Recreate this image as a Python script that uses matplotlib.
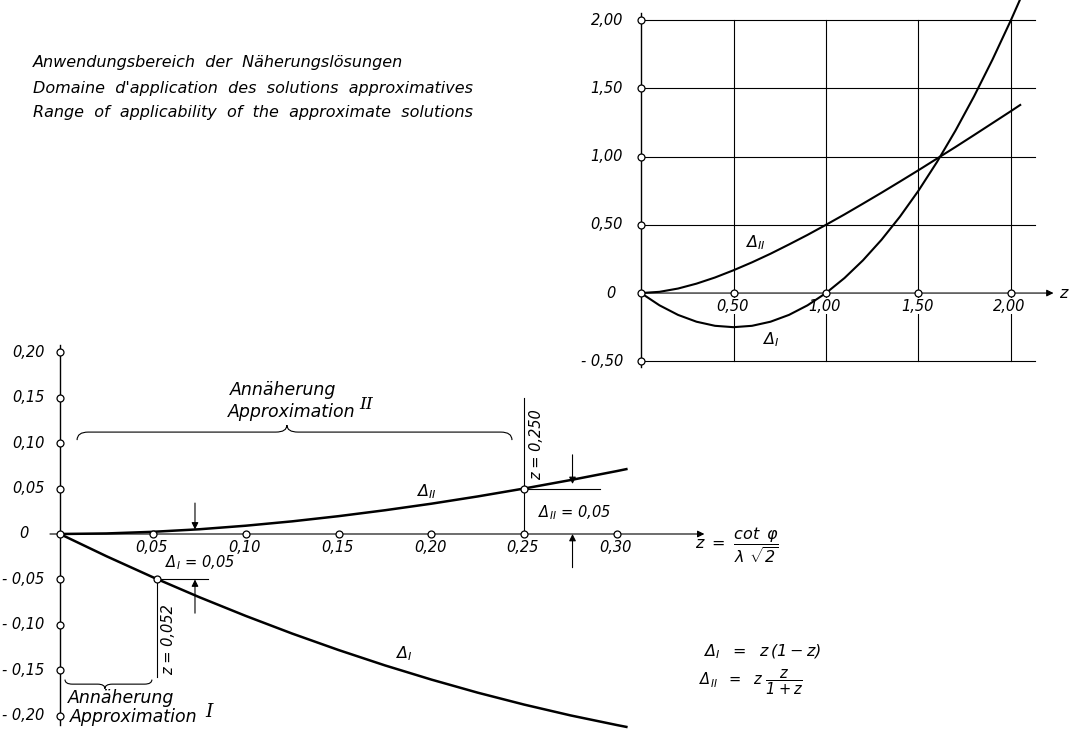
import matplotlib
matplotlib.use('Agg')
import matplotlib.pyplot as plt
from matplotlib.path import Path
from matplotlib.patches import PathPatch

# values
z_main = [0, 0.025, 0.05, 0.075, 0.10, 0.125, 0.15, 0.175, 0.20, 0.225, 0.25, 0.275, 0.30, 0.305]
d1_main = [0, -0.0244, -0.0475, -0.0694, -0.0900, -0.1094, -0.1275, -0.1444, -0.1600,
           -0.1744, -0.1875, -0.1994, -0.2100, -0.2120]
d2_main = [0, 0.0006, 0.0024, 0.0052, 0.0091, 0.0139, 0.0196, 0.0261, 0.0333,
           0.0413, 0.0500, 0.0593, 0.0692, 0.0713]

z_ins = [0, 0.1, 0.2, 0.3, 0.4, 0.5, 0.6, 0.7, 0.8, 0.9, 1.0, 1.1, 1.2, 1.3, 1.4,
         1.5, 1.6, 1.7, 1.8, 1.9, 2.0, 2.05]
d1_ins = [0, -0.09, -0.16, -0.21, -0.24, -0.25, -0.24, -0.21, -0.16, -0.09, 0, 0.11,
          0.24, 0.39, 0.56, 0.75, 0.96, 1.19, 1.44, 1.71, 2.0, 2.153]
d2_ins = [0, 0.009, 0.033, 0.069, 0.114, 0.167, 0.225, 0.288, 0.356, 0.426, 0.5, 0.576,
          0.655, 0.735, 0.817, 0.9, 0.985, 1.070, 1.157, 1.245, 1.333, 1.378]

main_xticks = [0.05, 0.10, 0.15, 0.20, 0.25, 0.30]
main_xlabels = ['0,05', '0,10', '0,15', '0,20', '0,25', '0,30']
main_yticks = [0.20, 0.15, 0.10, 0.05, -0.05, -0.10, -0.15, -0.20]
main_ylabels = ['0,20', '0,15', '0,10', '0,05', '- 0,05', '- 0,10', '- 0,15', '- 0,20']

ins_xticks = [0.5, 1.0, 1.5, 2.0]
ins_xlabels = ['0,50', '1,00', '1,50', '2,00']
ins_yticks = [2.0, 1.5, 1.0, 0.5, -0.5]
ins_ylabels = ['2,00', '1,50', '1,00', '0,50', '- 0,50']

title_lines = ['Anwendungsbereich  der  Näherungslösungen',
               "Domaine  d'application  des  solutions  approximatives",
               'Range  of  applicability  of  the  approximate  solutions']

plt.rcParams['font.family'] = 'DejaVu Sans'
plt.rcParams['font.style'] = 'italic'
plt.rcParams['mathtext.fontset'] = 'custom'
plt.rcParams['mathtext.it'] = 'DejaVu Sans:italic'
plt.rcParams['mathtext.rm'] = 'DejaVu Sans:italic'
plt.rcParams['mathtext.default'] = 'it'

FS = 10.5
W, H = 1072, 731


def brace(ax, x0, x1, xm, y, d_end, d_tip, e):
    # curly brace; d_end/d_tip signed heights of end curls and middle tip
    verts = [(x0, y + d_end), (x0, y), (x0 + e, y),
             (xm - e, y), (xm, y), (xm, y + d_tip),
             (xm, y), (xm + e, y),
             (x1 - e, y), (x1, y), (x1, y + d_end)]
    codes = [Path.MOVETO, Path.CURVE3, Path.CURVE3,
             Path.LINETO, Path.CURVE3, Path.CURVE3,
             Path.CURVE3, Path.CURVE3,
             Path.LINETO, Path.CURVE3, Path.CURVE3]
    ax.add_patch(PathPatch(Path(verts, codes), fill=False, lw=0.8, color='k'))


def arrow(ax, tail, tip):
    ax.annotate('', xy=tip, xytext=tail,
                arrowprops=dict(arrowstyle='-|>', color='k', lw=0.8,
                                mutation_scale=10, shrinkA=0, shrinkB=0))


def open_marks(ax, xs, ys, ms=5):
    ax.plot(xs, ys, 'o', ms=ms, mfc='white', mec='k', mew=0.9, zorder=6)


fig = plt.figure(figsize=(W / 100, H / 100), dpi=100)

# ---------------- main chart ----------------
ax = fig.add_axes([0, 0, 800 / W, 391 / H])
ax.set_xlim(-0.0323, 0.3985)
ax.set_ylim(-0.2165, 0.2132)
ax.axis('off')

ax.plot([0, 0], [-0.21, 0.2077], color='k', lw=1.0)
arrow(ax, (-0.0054, 0), (0.347, 0))

ax.plot(z_main, d1_main, color='k', lw=1.8)
ax.plot(z_main, d2_main, color='k', lw=1.8)

open_marks(ax, [0] * len(main_yticks), main_yticks)
open_marks(ax, main_xticks, [0] * len(main_xticks))
open_marks(ax, [0, 0.052, 0.25], [0, -0.05, 0.05])

for t, lab in zip(main_xticks, main_xlabels):
    ax.annotate(lab, (t, 0), xytext=(-1, -4), textcoords='offset points',
                ha='center', va='top', fontsize=FS)
for t, lab in zip(main_yticks, main_ylabels):
    ax.annotate(lab, (0, t), xytext=(-11, 0), textcoords='offset points',
                ha='right', va='center', fontsize=FS)
ax.annotate('0', (0, 0), xytext=(-26, 0), textcoords='offset points',
            ha='center', va='center', fontsize=FS)

# z = 0,052 marker
ax.plot([0.052, 0.052], [-0.05, -0.157], color='k', lw=0.8)
ax.plot([0.052, 0.0797], [-0.05, -0.05], color='k', lw=0.8)
arrow(ax, (0.0727, -0.087), (0.0727, -0.05))
arrow(ax, (0.0727, 0.034), (0.0727, 0.005))
ax.text(0.0585, -0.116, 'z = 0,052', rotation=90, ha='center', va='center', fontsize=FS)
ax.text(0.0754, -0.032, r'$\Delta_{I}$ = 0,05', ha='center', va='center', fontsize=FS)

# z = 0,250 marker
ax.plot([0.25, 0.25], [0, 0.15], color='k', lw=0.8)
ax.plot([0.25, 0.291], [0.05, 0.05], color='k', lw=0.8)
arrow(ax, (0.276, 0.087), (0.276, 0.055))
arrow(ax, (0.276, -0.037), (0.276, 0))
ax.text(0.2565, 0.098, 'z = 0,250', rotation=90, ha='center', va='center', fontsize=FS)
ax.text(0.277, 0.023, r'$\Delta_{II}$ = 0,05', ha='center', va='center', fontsize=FS)

# curve labels
ax.text(0.197, 0.047, r'$\Delta_{II}$', ha='center', va='center', fontsize=FS + 1)
ax.text(0.185, -0.132, r'$\Delta_{I}$', ha='center', va='center', fontsize=FS + 1)

# braces and approximation labels
brace(ax, 0.0092, 0.2434, 0.1222, 0.112, -0.0088, 0.0077, 0.006)
ax.text(0.0915, 0.158, 'Annäherung', ha='left', va='center', fontsize=FS + 2)
ax.text(0.0905, 0.134, 'Approximation', ha='left', va='center', fontsize=FS + 2)
ax.text(0.1650, 0.142, 'II', ha='center', va='center', fontsize=FS + 2, family='DejaVu Serif')

brace(ax, 0.0027, 0.0495, 0.0242, -0.165, 0.005, -0.005, 0.004)
ax.text(0.0043, -0.180, 'Annäherung', ha='left', va='center', fontsize=FS + 2)
ax.text(0.0053, -0.201, 'Approximation', ha='left', va='center', fontsize=FS + 2)
ax.text(0.080, -0.196, 'I', ha='center', va='center', fontsize=FS + 3, family='DejaVu Serif')

# axis label and formulas
ax.text(0.342, -0.013, r'$z\ =\ \dfrac{\cot\ \varphi}{\lambda\ \sqrt{2}}$', ha='left', va='center', fontsize=FS + 1)
ax.text(0.346, -0.130, r'$\Delta_{I}\ \ =\ \ z\,(1-z)$', ha='left', va='center', fontsize=FS + 1)
ax.text(0.344, -0.163, r'$\Delta_{II}\ \ =\ \ z\ \dfrac{z}{1+z}$', ha='left', va='center', fontsize=FS)

# ---------------- inset chart ----------------
ai = fig.add_axes([560 / W, 351 / H, 512 / W, 380 / H])
ai.set_xlim(-0.438, 2.33)
ai.set_ylim(-0.637, 2.147)
ai.axis('off')

for t in ins_xticks:
    ai.plot([t, t], [-0.5, 2.0], color='k', lw=0.8, zorder=1)
for t in ins_yticks:
    ai.plot([0, 2.13], [t, t], color='k', lw=0.8, zorder=1)
ai.plot([0, 0], [-0.54, 2.05], color='k', lw=1.0, zorder=1)
arrow(ai, (0, 0), (2.23, 0))
ai.text(2.262, 0, 'z', ha='left', va='center', fontsize=FS + 1)

ai.plot(z_ins, d1_ins, color='k', lw=1.5, zorder=5)
ai.plot(z_ins, d2_ins, color='k', lw=1.5, zorder=5)

open_marks(ai, [0] * len(ins_yticks), ins_yticks)
open_marks(ai, ins_xticks, [0] * len(ins_xticks))
open_marks(ai, [0], [0])

box = dict(facecolor='white', edgecolor='none', pad=0.5)
for t, lab in zip(ins_xticks, ins_xlabels):
    ai.annotate(lab, (t, 0), xytext=(-1, -4), textcoords='offset points',
                ha='center', va='top', fontsize=FS, bbox=box, zorder=3)
for t, lab in zip(ins_yticks, ins_ylabels):
    ai.annotate(lab, (0, t), xytext=(-13, 0), textcoords='offset points',
                ha='right', va='center', fontsize=FS)
ai.annotate('0', (0, 0), xytext=(-22, 0), textcoords='offset points',
            ha='center', va='center', fontsize=FS)

ai.text(0.616, 0.366, r'$\Delta_{II}$', ha='center', va='center', fontsize=FS + 1)
ai.text(0.70, -0.344, r'$\Delta_{I}$', ha='center', va='center', fontsize=FS + 1)

# ---------------- heading ----------------
for i, line in enumerate(title_lines):
    fig.text(33 / W, 1 - (63 + 25 * i) / H, line, ha='left', va='center', fontsize=11.5)

fig.savefig('out.png', dpi=100)
